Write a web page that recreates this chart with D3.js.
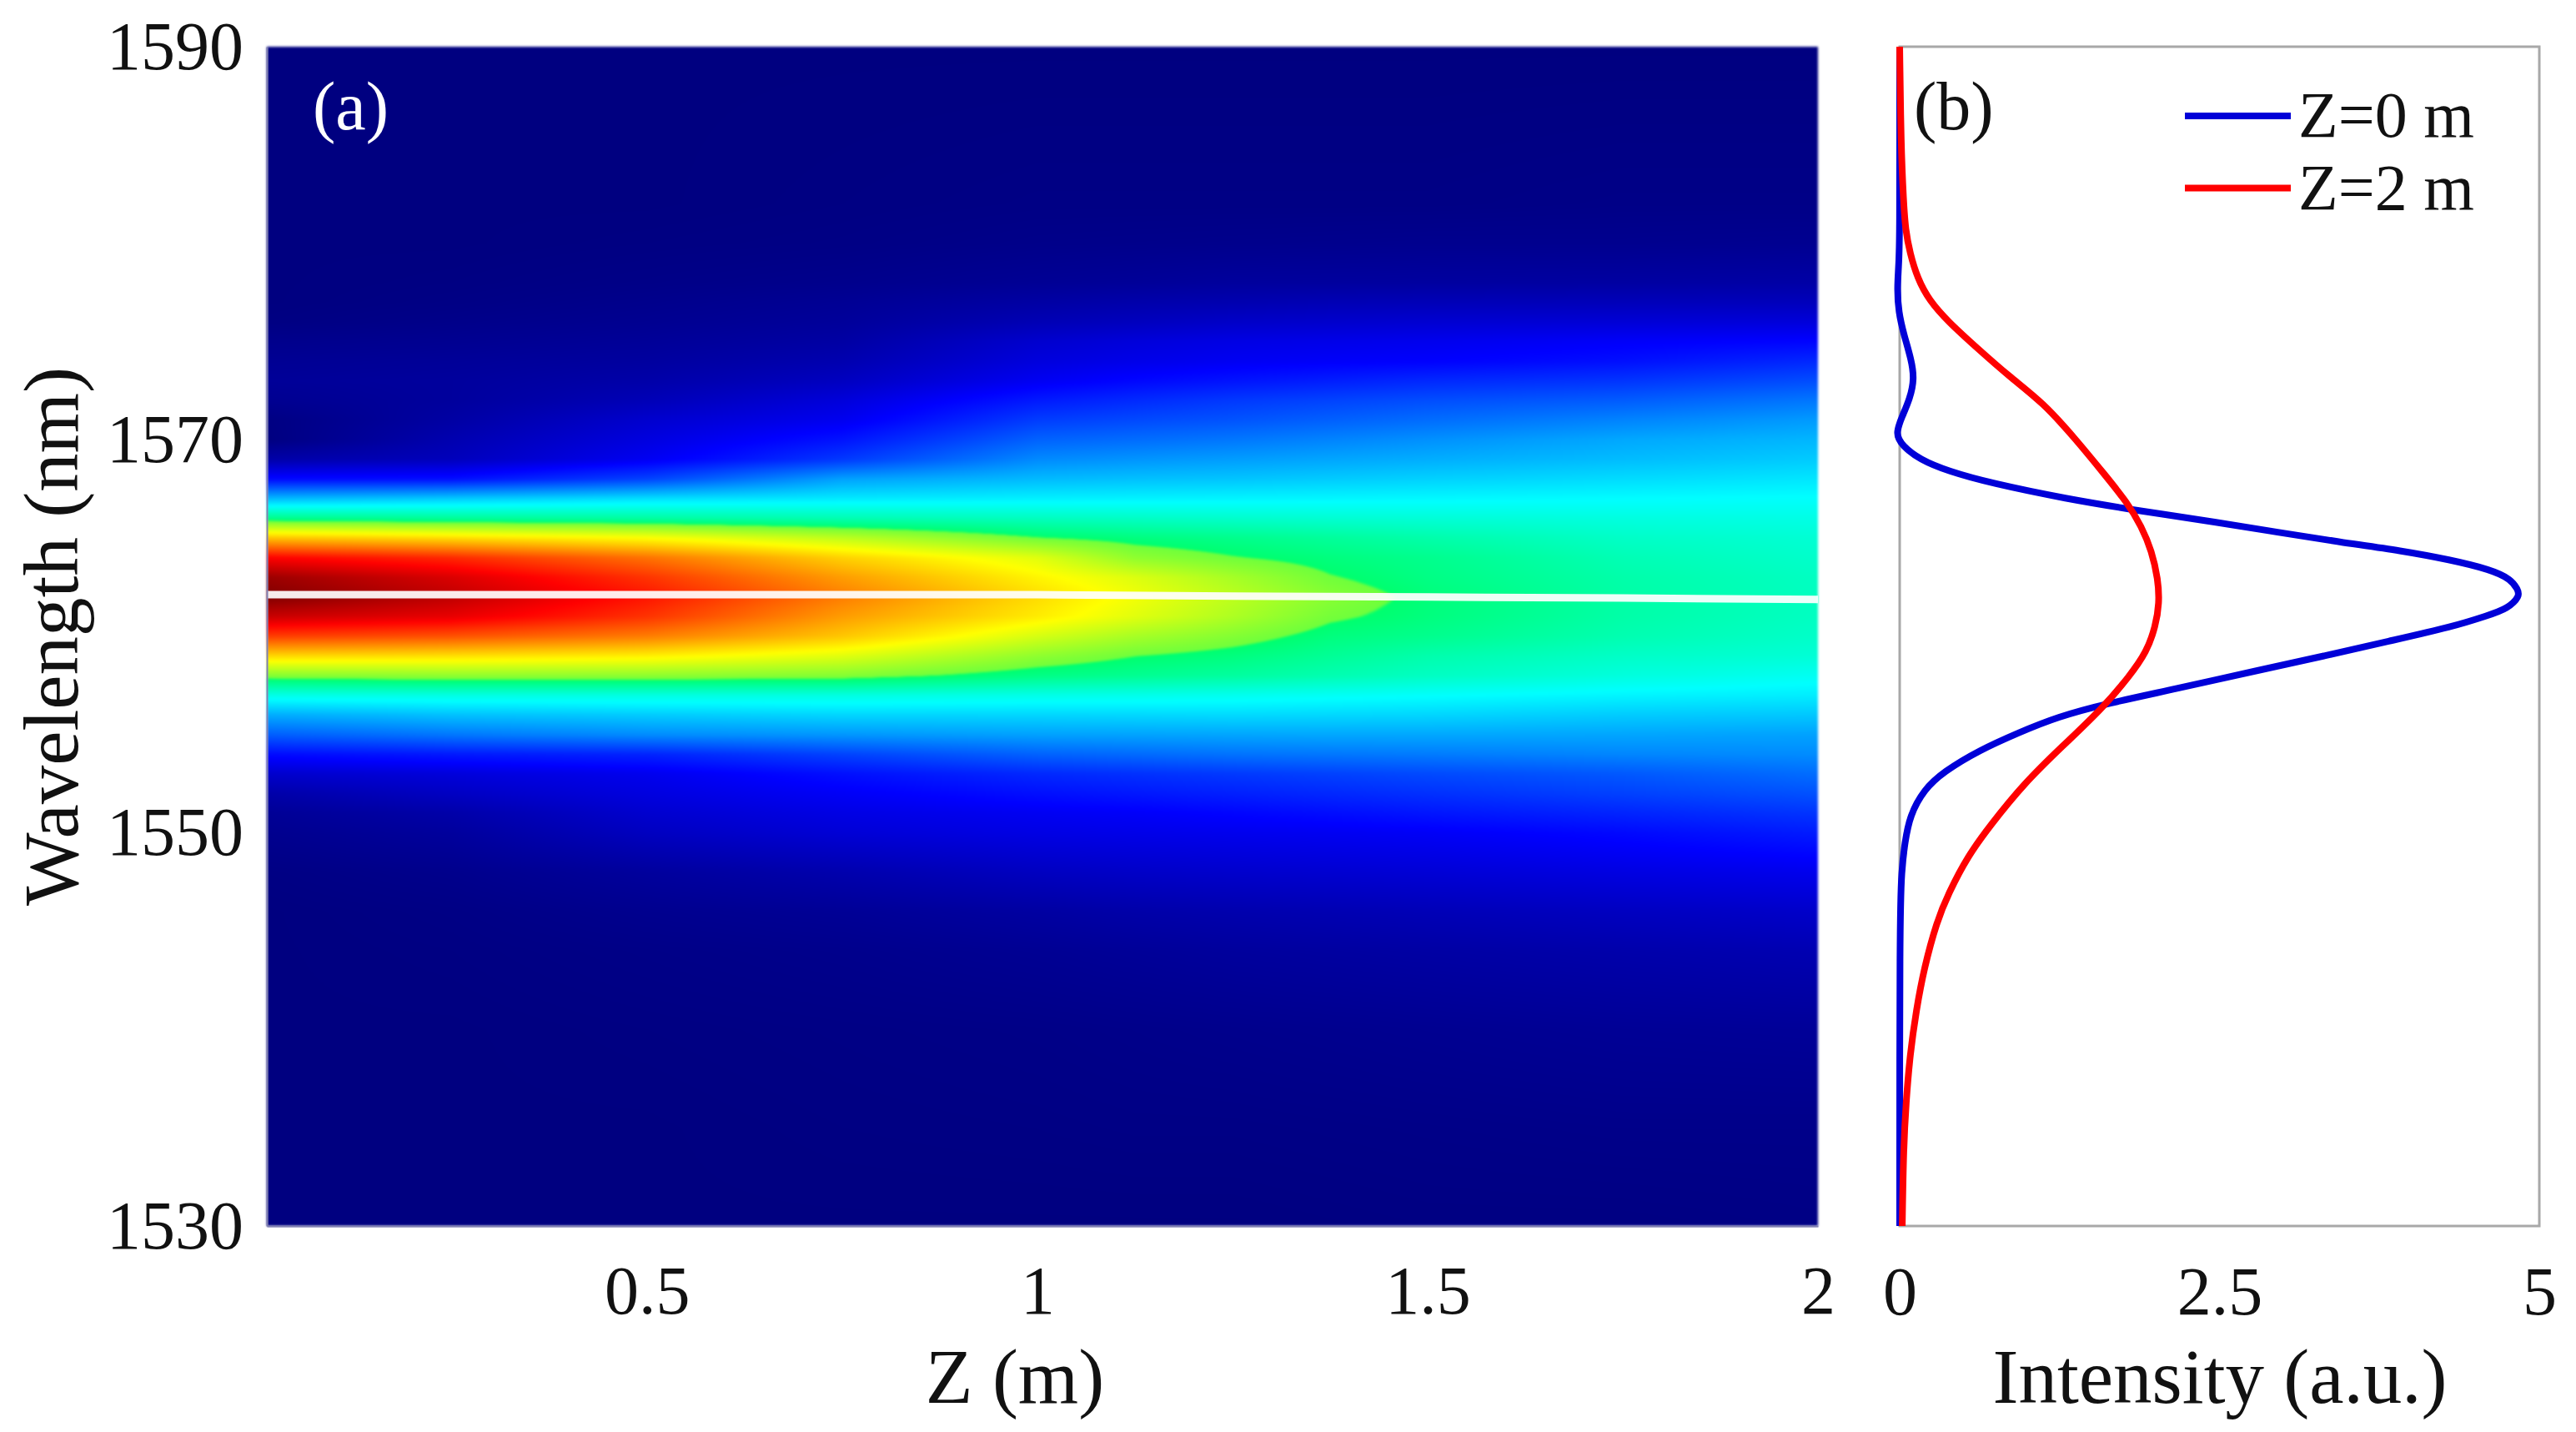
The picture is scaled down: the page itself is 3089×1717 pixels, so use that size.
<!DOCTYPE html>
<html>
<head>
<meta charset="utf-8">
<script src="https://cdnjs.cloudflare.com/ajax/libs/d3/7.8.5/d3.min.js"></script>
<style>
	html, body { margin: 0; padding: 0; background: #fff; }
	svg { display: block; }
	text { font-family: "Liberation Serif", serif; fill: #111; }
</style>
</head>
<body>
<script>
const mapZ = [0.013, 0.25, 0.5, 0.75, 1, 1.125, 1.25, 1.375, 1.5, 1.75, 2];
const mapWave = [1590, 1582, 1580, 1578, 1577, 1576, 1575, 1574, 1573, 1572, 1571, 1570, 1569, 1568, 1567, 1566,
	1565, 1564, 1563, 1562, 1561, 1560, 1559, 1558, 1557, 1556, 1555, 1554, 1553, 1552, 1551, 1550, 1548, 1546,
	1544, 1540, 1535, 1530];
const mapValues = [
	[0, 0, 0, 0, 0, 0, 0, 0, 0, 0, 0],
	[0, 0, 0, 0.01, 0.02, 0.02, 0.02, 0.02, 0.02, 0.03, 0.03],
	[0, 0, 0.01, 0.02, 0.04, 0.045, 0.05, 0.055, 0.06, 0.06, 0.07],
	[0, 0.01, 0.03, 0.05, 0.085, 0.1, 0.12, 0.125, 0.13, 0.14, 0.16],
	[0, 0.02, 0.05, 0.085, 0.15, 0.18, 0.2, 0.22, 0.23, 0.24, 0.25],
	[0.01, 0.04, 0.07, 0.11, 0.22, 0.26, 0.3, 0.32, 0.34, 0.36, 0.38],
	[0.05, 0.07, 0.1, 0.15, 0.33, 0.38, 0.42, 0.44, 0.46, 0.51, 0.55],
	[0.08, 0.1, 0.13, 0.2, 0.39, 0.44, 0.48, 0.51, 0.53, 0.6, 0.72],
	[0.1, 0.12, 0.17, 0.27, 0.48, 0.56, 0.62, 0.67, 0.72, 0.78, 0.9],
	[0.07, 0.12, 0.23, 0.38, 0.65, 0.73, 0.8, 0.85, 0.9, 0.97, 1.1],
	[0.01, 0.15, 0.33, 0.47, 0.82, 0.88, 0.93, 0.99, 1.05, 1.16, 1.27],
	[0, 0.2, 0.4, 0.62, 1, 1.05, 1.1, 1.16, 1.22, 1.33, 1.4],
	[0.17, 0.25, 0.48, 0.8, 1.19, 1.24, 1.28, 1.32, 1.36, 1.43, 1.5],
	[0.57, 0.6, 0.85, 1.3, 1.42, 1.45, 1.47, 1.5, 1.53, 1.58, 1.63],
	[1.42, 1.5, 1.6, 1.65, 1.68, 1.69, 1.7, 1.71, 1.72, 1.74, 1.76],
	[2.28, 2.22, 2.18, 2.1, 2.04, 2.01, 1.98, 1.95, 1.93, 1.89, 1.86],
	[3.32, 3.2, 3.03, 2.75, 2.42, 2.33, 2.27, 2.2, 2.13, 2, 1.94],
	[4.25, 4.05, 3.7, 3.25, 2.9, 2.55, 2.42, 2.33, 2.26, 2.08, 1.98],
	[4.72, 4.42, 4, 3.5, 3.08, 2.88, 2.65, 2.42, 2.3, 2.13, 2.02],
	[4.85, 4.55, 4.15, 3.65, 3.2, 2.98, 2.75, 2.52, 2.35, 2.15, 2.03],
	[4.5, 4.35, 4, 3.5, 3.12, 2.9, 2.68, 2.44, 2.33, 2.14, 2.02],
	[3.95, 3.85, 3.65, 3.3, 2.85, 2.65, 2.5, 2.33, 2.26, 2.1, 1.99],
	[3.22, 3.18, 3.1, 2.9, 2.55, 2.41, 2.33, 2.22, 2.12, 2, 1.93],
	[2.5, 2.55, 2.54, 2.5, 2.3, 2.24, 2.18, 2.1, 2.02, 1.9, 1.8],
	[1.85, 1.87, 1.88, 1.88, 1.85, 1.84, 1.82, 1.79, 1.76, 1.7, 1.66],
	[1.35, 1.45, 1.5, 1.55, 1.55, 1.56, 1.57, 1.56, 1.55, 1.5, 1.48],
	[0.98, 1.1, 1.2, 1.25, 1.3, 1.31, 1.32, 1.33, 1.33, 1.32, 1.3],
	[0.58, 0.65, 0.7, 0.85, 1, 1.04, 1.08, 1.1, 1.12, 1.17, 1.2],
	[0.32, 0.38, 0.46, 0.6, 0.72, 0.76, 0.8, 0.84, 0.88, 0.95, 1.05],
	[0.17, 0.28, 0.4, 0.5, 0.6, 0.64, 0.68, 0.72, 0.76, 0.84, 0.92],
	[0.09, 0.17, 0.33, 0.42, 0.48, 0.51, 0.55, 0.59, 0.63, 0.7, 0.78],
	[0.06, 0.12, 0.27, 0.36, 0.42, 0.44, 0.46, 0.48, 0.5, 0.57, 0.66],
	[0.015, 0.05, 0.12, 0.19, 0.27, 0.3, 0.32, 0.34, 0.36, 0.41, 0.46],
	[0, 0.02, 0.06, 0.09, 0.14, 0.17, 0.19, 0.21, 0.23, 0.27, 0.31],
	[0, 0.01, 0.03, 0.05, 0.08, 0.1, 0.12, 0.135, 0.15, 0.18, 0.21],
	[0, 0, 0.01, 0.02, 0.03, 0.04, 0.05, 0.06, 0.07, 0.09, 0.1],
	[0, 0, 0, 0.01, 0.015, 0.02, 0.02, 0.025, 0.03, 0.04, 0.04],
	[0, 0, 0, 0, 0, 0, 0, 0.005, 0.01, 0.01, 0.02]
];

// white peak line on the map
const peakZ = [0.013, 0.5, 1, 1.25, 1.5, 1.75, 2];
const peakWave = [1562.12, 1562.12, 1562.12, 1562.05, 1562, 1561.95, 1561.88];

// panel (b) spectra
const z0Wave = [1590, 1585, 1581, 1579, 1577.8, 1576.5, 1575.3, 1574.1, 1573.1, 1572.1, 1571.2, 1570.3, 1569.7, 1569,
	1568.4, 1567.8, 1567, 1566.4, 1565.8, 1565.3, 1564.8, 1564.35, 1563.9, 1563.4, 1562.9, 1562.4, 1562.05, 1561.4,
	1561.07, 1560.5, 1559.75, 1559, 1558.3, 1557.3, 1556.6, 1555.9, 1555.1, 1554.2, 1553.1, 1552.2, 1550.9, 1549.5,
	1548.1, 1545.7, 1530];
const z0Intensity = [0, 0, 0, -0.005, -0.02, -0.01, 0.035, 0.09, 0.115, 0.08, 0.02, -0.035, 0.02, 0.155,
	0.38, 0.71, 1.3, 1.86, 2.49, 2.95, 3.44, 3.93, 4.3, 4.62, 4.78, 4.83, 4.85, 4.75,
	4.6, 4.33, 3.82, 3.32, 2.82, 2.14, 1.63, 1.23, 0.93, 0.62, 0.34, 0.19, 0.08, 0.04,
	0.015, 0, 0];
const z2Wave = [1590, 1585, 1582.1, 1580.7, 1579.5, 1578.2, 1577.1, 1576, 1574.7, 1573.2, 1571.9, 1570, 1568.25, 1566.8,
	1565.6, 1564.35, 1562.9, 1561.7, 1560.5, 1559.2, 1558, 1556.3, 1554.4, 1552.5, 1550.4, 1548.8, 1546.9, 1545.5,
	1543.1, 1541, 1538.7, 1536.3, 1534, 1530];
const z2Intensity = [0, 0.01, 0.03, 0.045, 0.08, 0.14, 0.23, 0.38, 0.6, 0.86, 1.12, 1.38, 1.6, 1.78,
	1.89, 1.97, 2.02, 2.03, 2, 1.93, 1.8, 1.58, 1.27, 0.97, 0.71, 0.53, 0.38, 0.29,
	0.19, 0.13, 0.08, 0.05, 0.03, 0.02];

// tick labels
const waveTicks = [1590, 1570, 1550, 1530];
const zTicks = [0.5, 1, 1.5, 2];
const intensityTicks = [0, 2.5, 5];

// legend entries
const legendLabels = ["Z=0 m", "Z=2 m"];
const legendColors = ["#0000d8", "#ff0000"];

// jet-like colour map, with the small step at the green that the picture shows
const colorStops = [0, 0.11, 0.36, 0.495, 0.497, 0.625, 0.875, 1];
const colorValues = ["#000080", "#0000ff", "#00ffff", "#00ff6e", "#6eff3c", "#ffff00", "#ff0000", "#800000"];
const maxIntensity = 4.85;

var width = 3089, height = 1717;
var plotTop = 56, plotBottom = 1470;
var mapLeft = 320, mapRight = 2180, specLeft = 2278, specRight = 3045;

var xZ = d3.scaleLinear().domain([0.013, 2]).range([mapLeft, mapRight]);
var yWave = d3.scaleLinear().domain([1530, 1590]).range([plotBottom, plotTop]);
var xInt = d3.scaleLinear().domain([0, 5]).range([specLeft, specRight]);

var svg = d3.select("body").append("svg")
	.attr("width", width)
	.attr("height", height);

// Fills the map the way shading interp does, bilinear between the typed cells, and returns it as a data url
function renderMap() {
	let color = d3.scaleLinear().domain(colorStops).range(colorValues).clamp(true);
	let lut = d3.range(4096).map(i => d3.rgb(color(i / 4095)));

	let w = mapRight - mapLeft;
	let h = plotBottom - plotTop;
	let canvas = document.createElement("canvas");
	canvas.width = w;
	canvas.height = h;
	let ctx = canvas.getContext("2d");
	let img = ctx.createImageData(w, h);

	// mapWave is descending, so bisect on the negated values
	let negWave = mapWave.map(d => -d);

	// column position for each pixel along x
	let cols = d3.range(w).map(px => {
		let z = xZ.invert(mapLeft + px + 0.5);
		let i = Math.min(Math.max(d3.bisectRight(mapZ, z) - 1, 0), mapZ.length - 2);
		return [i, Math.max(0, Math.min(1, (z - mapZ[i]) / (mapZ[i + 1] - mapZ[i])))];
	});

	for (let py = 0; py < h; py++) {
		let wl = yWave.invert(plotTop + py + 0.5);
		let r = Math.min(Math.max(d3.bisectRight(negWave, -wl) - 1, 0), mapWave.length - 2);
		let t = (mapWave[r] - wl) / (mapWave[r] - mapWave[r + 1]);
		let a = mapValues[r], b = mapValues[r + 1];
		for (let px = 0; px < w; px++) {
			let i = cols[px][0], u = cols[px][1];
			let v = (1 - t) * ((1 - u) * a[i] + u * a[i + 1]) + t * ((1 - u) * b[i] + u * b[i + 1]);
			let c = lut[Math.max(0, Math.min(4095, Math.round(v / maxIntensity * 4095)))];
			let k = (py * w + px) * 4;
			img.data[k] = c.r;
			img.data[k + 1] = c.g;
			img.data[k + 2] = c.b;
			img.data[k + 3] = 255;
		}
	}
	ctx.putImageData(img, 0, 0);
	return canvas.toDataURL("image/png");
}

svg.append("image")
	.attr("x", mapLeft)
	.attr("y", plotTop)
	.attr("width", mapRight - mapLeft)
	.attr("height", plotBottom - plotTop)
	.style("filter", "blur(1.5px)")
	.attr("href", renderMap());

// white line over the map
svg.append("path")
	.datum(d3.zip(peakZ, peakWave))
	.attr("fill", "none")
	.attr("stroke", "#fff")
	.attr("stroke-opacity", 0.92)
	.attr("stroke-width", 9)
	.attr("d", d3.line().x(d => xZ(d[0])).y(d => yWave(d[1])));

// axes of panel (a): no tick marks, only labels
var axisLeft = svg.append("g")
	.attr("transform", "translate(" + mapLeft + ",0)")
	.call(d3.axisLeft(yWave).tickValues(waveTicks).tickFormat(d3.format("d")).tickSize(0).tickPadding(28));
var axisBottom = svg.append("g")
	.attr("transform", "translate(0," + plotBottom + ")")
	.call(d3.axisBottom(xZ).tickValues(zTicks).tickFormat(d => String(d)).tickSize(0));
var axisSpec = svg.append("g")
	.attr("transform", "translate(0," + plotBottom + ")")
	.call(d3.axisBottom(xInt).tickValues(intensityTicks).tickFormat(d => String(d)).tickSize(0));

svg.selectAll("g").attr("font-family", null).attr("font-size", null);
svg.selectAll("g text").style("font-size", "82px");
axisBottom.selectAll("text").attr("y", 105).attr("dy", 0);
axisSpec.selectAll("text").attr("y", 106).attr("dy", 0);
axisLeft.select(".domain").attr("stroke", "#7f7fb0").attr("stroke-width", 2);
axisBottom.select(".domain").attr("stroke", "#7f7fb0").attr("stroke-width", 2);
axisSpec.select(".domain").remove();

// frame of panel (b)
svg.append("rect")
	.attr("x", xInt(0))
	.attr("y", plotTop)
	.attr("width", xInt(5) - xInt(0))
	.attr("height", plotBottom - plotTop)
	.attr("fill", "none")
	.attr("stroke", "#a8a8a8")
	.attr("stroke-width", 3);

// spectra, blue first because red runs over it
var specLine = d3.line()
	.x(d => xInt(d[1]))
	.y(d => yWave(d[0]))
	.curve(d3.curveBasis);

svg.append("path")
	.datum(d3.zip(z0Wave, z0Intensity))
	.attr("fill", "none")
	.attr("stroke", legendColors[0])
	.attr("stroke-width", 8)
	.attr("d", specLine);

svg.append("path")
	.datum(d3.zip(z2Wave, z2Intensity))
	.attr("fill", "none")
	.attr("stroke", legendColors[1])
	.attr("stroke-width", 8)
	.attr("d", specLine);

// legend
legendLabels.forEach(function(label, i) {
	let rowY = 139 + i * 86.5;
	svg.append("line")
		.attr("x1", 2620)
		.attr("x2", 2747)
		.attr("y1", rowY)
		.attr("y2", rowY)
		.attr("stroke", legendColors[i])
		.attr("stroke-width", 8);
	svg.append("text")
		.attr("x", 2756)
		.attr("y", rowY + 25)
		.style("font-size", "78px")
		.text(label);
});

// panel letters
svg.append("text").attr("x", 375).attr("y", 155).style("font-size", "82px").style("fill", "#fff").text("(a)");
svg.append("text").attr("x", 2295).attr("y", 155).style("font-size", "82px").text("(b)");

// axis titles
svg.append("text")
	.attr("transform", "translate(93,763) rotate(-90)")
	.attr("text-anchor", "middle")
	.style("font-size", "93px")
	.text("Wavelength (nm)");
svg.append("text")
	.attr("x", 1217)
	.attr("y", 1682)
	.attr("text-anchor", "middle")
	.style("font-size", "93px")
	.text("Z (m)");
svg.append("text")
	.attr("x", 2662)
	.attr("y", 1682)
	.attr("text-anchor", "middle")
	.style("font-size", "93px")
	.text("Intensity (a.u.)");
</script>
</body>
</html>
